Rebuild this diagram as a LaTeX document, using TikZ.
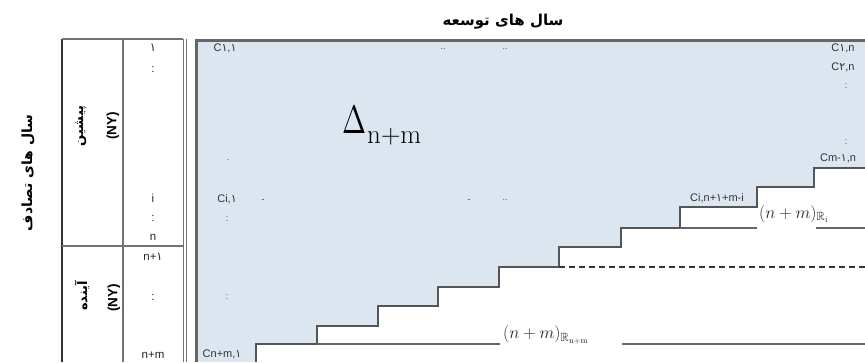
\documentclass[tikz,border=0pt]{standalone}
\usepackage{amssymb}
\usepackage{fontspec}
\TeXXeTstate=1
\newfontfamily\fafont[Script=Arabic]{DejaVu Sans}
\newfontfamily\labfont{Liberation Sans}
\newfontfamily\digfont{DejaVu Sans}
\newcommand\pone{{\digfont ۱}}
\newcommand\ptwo{{\digfont ۲}}
\definecolor{fillblue}{RGB}{220,230,241}
\definecolor{linegray}{RGB}{85,85,85}
\begin{document}
\begin{tikzpicture}[x=1pt,y=-1pt,
  lab/.style={font=\labfont\fontsize{11}{11}\selectfont, text=black!80, inner sep=0pt},
  num/.style={font=\labfont\fontsize{11.5}{11.5}\selectfont, text=black!85, inner sep=0pt},
  dots/.style={font=\labfont\fontsize{9}{9}\selectfont, text=black!70, inner sep=0pt},
  fa/.style={font=\fafont\bfseries\fontsize{15}{15}\selectfont, inner sep=0pt},
  facell/.style={font=\fafont\bfseries\fontsize{13}{13}\selectfont, inner sep=0pt, rotate=90},
  ny/.style={font=\labfont\bfseries\fontsize{13.5}{13.5}\selectfont, inner sep=0pt, rotate=90},
  mlab/.style={font=\fontsize{17}{17}\selectfont, inner sep=0pt, text=black!85},
  stairline/.style={draw=linegray, line width=2.4pt},
  gridline/.style={draw=black!55, line width=1.6pt},
  thinline/.style={draw=black!55, line width=0.8pt},
  levelline/.style={draw=black!60, line width=2.2pt},
  dashline/.style={draw=black!80, line width=1.4pt, dash pattern=on 6pt off 4pt},
]
\useasboundingbox (0,0) rectangle (865,362);
% main shaded region
\fill[fillblue] (196,40) rectangle (865,362);
\fill[white] (256,362) -- (256,344) -- (317,344) -- (317,326) -- (378,326) -- (378,306)
  -- (438,306) -- (438,287) -- (499,287) -- (499,267) -- (559,267) -- (559,247)
  -- (621,247) -- (621,228) -- (680,228) -- (680,207) -- (757,207) -- (757,187)
  -- (814,187) -- (814,168) -- (865,168) -- (865,362) -- cycle;
% staircase
\draw[stairline] (256,362) -- (256,344) -- (317,344) -- (317,326) -- (378,326) -- (378,306)
  -- (438,306) -- (438,287) -- (499,287) -- (499,267) -- (559,267) -- (559,247)
  -- (621,247) -- (621,228) -- (680,228) -- (680,207) -- (757,207) -- (757,187)
  -- (814,187) -- (814,168) -- (865,168);
% level lines
\draw[levelline] (317,344) -- (500,344);
\draw[levelline] (622,344) -- (865,344);
\draw[levelline] (680,228) -- (757,228);
\draw[levelline] (816,228) -- (865,228);
\draw[dashline] (559,267) -- (865,267);
% main box border
\draw[draw=black!60, line width=3pt] (196,362) -- (196,40) -- (865,40);
% left table
\draw[draw=black!80, line width=2pt] (62,362) -- (62,39);
\draw[gridline] (62,39) -- (183,39);
\draw[gridline] (123,39) -- (123,362);
\draw[gridline] (62,246) -- (183,246);
\draw[thinline] (183,39) -- (183,362);
\draw[thinline] (186,39) -- (186,362);
% headings
\node[fa] (top) at (503,22) {\beginR سال های توسعه\endR};
\node[fa, font=\fafont\bfseries\fontsize{14}{14}\selectfont, rotate=90] (side) at (28,173) {\beginR سال های تصادف\endR};
\node[facell] (past) at (81,126) {\beginR پیشین\endR};
\node[ny] (pastny) at (113,126) {(NY)};
\node[facell] (fut) at (82,296) {\beginR آینده\endR};
\node[ny] (futny) at (114,298) {(NY)};
% year indices
\node[num] (r1) at (153,48) {\pone};
\node[num] (r2) at (153,69) {:};
\node[num] (rowi) at (153,198) {i};
\node[num] (r3) at (153,218) {:};
\node[num] (rown) at (153,237) {n};
\node[num] (rown1) at (153,257) {n+\pone};
\node[num] (r4) at (153,297) {:};
\node[num] (rownm) at (153,355) {n+m};
% cells
\node[lab] (c11) at (225,48) {C\pone,\pone};
\node[dots] (d1) at (443,49) {..};
\node[dots] (d2) at (505,49) {..};
\node[dots] (d3) at (228,160) {.};
\node[lab] (ci1) at (227,199) {Ci,\pone};
\node[dots] (d4) at (263,201) {-};
\node[dots] (d5) at (469,201) {-};
\node[dots] (d6) at (505,200) {..};
\node[dots] (d7) at (227,219) {:};
\node[dots] (d8) at (227,297) {:};
\node[lab] (cnm1) at (222,354) {Cn+m,\pone};
\node[lab] (c1n) at (843,48) {C\pone,n};
\node[lab] (c2n) at (843,67) {C\ptwo,n};
\node[dots] (d9) at (846,86) {:};
\node[dots] (d10) at (846,142) {:};
\node[lab] (cm1n) at (838,158) {Cm-\pone,n};
\node[lab] (cin) at (717,198) {Ci,n+\pone+m-i};
% delta
\node[anchor=base west, inner sep=0pt] (delta) at (342,133) {\resizebox{24pt}{27pt}{$\Delta$}};
\node[anchor=base west, inner sep=0pt] (deltasub) at (367,143) {\fontsize{27}{27}\selectfont n+m};
% R labels
\node[mlab, anchor=west] (labri) at (759,214) {$(n+m)_{\mathbb{R}_{\mathrm{i}}}$};
\node[mlab, anchor=west] (labrnm) at (503,335) {$(n+m)_{\mathbb{R}_{\mathrm{n+m}}}$};
\end{tikzpicture}
\end{document}
